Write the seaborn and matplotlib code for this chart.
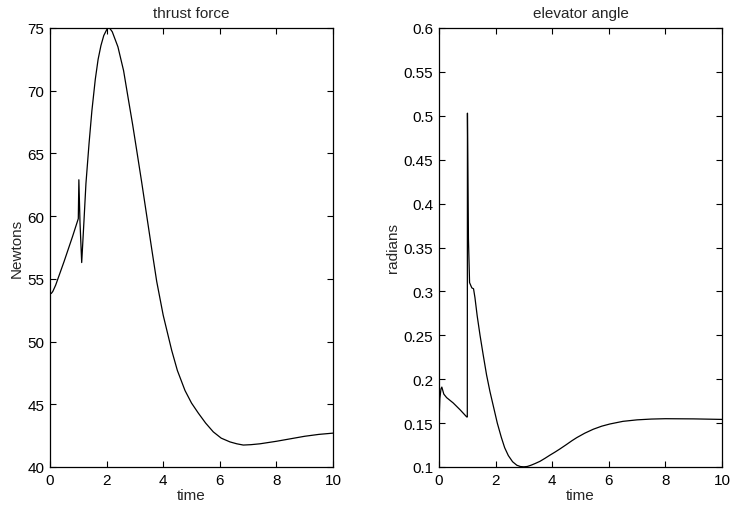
import numpy as np
import pandas as pd
import matplotlib
matplotlib.use("Agg")
import matplotlib.pyplot as plt
import seaborn as sns

# ---- data ----
thrust_t = [0.0, 0.05, 0.1, 0.2, 0.5, 0.8, 1.0, 1.02, 1.06, 1.12, 1.2, 1.27, 1.38, 1.48,
            1.6, 1.7, 1.8, 1.9, 2.0, 2.05, 2.12, 2.2, 2.4, 2.6, 2.77, 2.92, 3.06, 3.24, 3.42,
            3.6, 3.77, 4.0, 4.3, 4.5, 4.77, 5.0, 5.24, 5.5, 5.77, 6.05, 6.36, 6.6, 6.83, 7.1,
            7.42, 8.0, 8.5, 9.0, 9.5, 10.0]
thrust_v = [53.8, 53.85, 54.0, 54.5, 56.4, 58.4, 59.8, 62.9, 59.5, 56.3, 59.6, 62.6, 65.8, 68.4,
            70.9, 72.5, 73.6, 74.4, 74.85, 75.0, 74.95, 74.7, 73.5, 71.6, 69.3, 67.3, 65.3, 62.7, 60.0,
            57.3, 54.8, 52.1, 49.3, 47.7, 46.1, 45.1, 44.3, 43.5, 42.8, 42.3, 42.0, 41.85, 41.75, 41.78,
            41.85, 42.05, 42.25, 42.45, 42.6, 42.7]

elev_t = [0.0, 0.03, 0.07, 0.1, 0.17, 0.27, 0.5, 0.75, 0.98, 1.0, 1.005, 1.04, 1.08,
          1.16, 1.22, 1.27, 1.35, 1.45, 1.56, 1.68, 1.8, 1.93, 2.06, 2.2, 2.32, 2.45, 2.6,
          2.75, 2.88, 3.0, 3.12, 3.25, 3.4, 3.57, 3.75, 3.92, 4.1, 4.27, 4.5, 4.7, 4.87,
          5.15, 5.45, 5.75, 6.04, 6.5, 7.0, 7.5, 8.0, 9.0, 10.0]
elev_v = [0.15, 0.178, 0.189, 0.191, 0.183, 0.179, 0.173, 0.165, 0.157, 0.157, 0.503, 0.36, 0.31,
          0.304, 0.303, 0.293, 0.272, 0.25, 0.228, 0.205, 0.186, 0.168, 0.15, 0.134, 0.122, 0.113, 0.106,
          0.102, 0.1005, 0.1002, 0.1006, 0.102, 0.104, 0.1065, 0.11, 0.1135, 0.117, 0.1205, 0.1255, 0.13, 0.1335,
          0.1385, 0.143, 0.1465, 0.149, 0.152, 0.1537, 0.1546, 0.155, 0.1548, 0.1542]

thrust_df = pd.DataFrame({"time": thrust_t, "value": thrust_v})
elev_df = pd.DataFrame({"time": elev_t, "value": elev_v})

sns.set_style("ticks")
plt.rcParams["font.family"] = ["Liberation Sans", "DejaVu Sans"]
plt.rcParams["font.size"] = 11

fig = plt.figure(figsize=(7.34, 5.06), dpi=100)
W, H = 734, 506
ax1 = fig.add_axes([50 / W, 1 - 468 / H, (333 - 50) / W, (468 - 29) / H])
ax2 = fig.add_axes([439 / W, 1 - 468 / H, (722 - 439) / W, (468 - 29) / H])

panels = [
    (ax1, thrust_df, "thrust force", "Newtons", (40, 75), np.arange(40, 76, 5),
     [str(v) for v in range(40, 76, 5)]),
    (ax2, elev_df, "elevator angle", "radians", (0.1, 0.6), np.arange(0.1, 0.601, 0.05),
     ["0.1", "0.15", "0.2", "0.25", "0.3", "0.35", "0.4", "0.45", "0.5", "0.55", "0.6"]),
]

for ax, df, title, ylab, ylim, yt, ytl in panels:
    sns.lineplot(data=df, x="time", y="value", ax=ax, color="black", linewidth=0.9,
                 estimator=None, sort=False)
    ax.set_xlim(0, 10)
    ax.set_ylim(*ylim)
    ax.set_xticks([0, 2, 4, 6, 8, 10])
    ax.set_yticks(yt)
    ax.set_yticklabels(ytl)
    ax.set_title(title, fontsize=11, pad=8)
    ax.set_xlabel("time", fontsize=11, labelpad=1)
    ax.set_ylabel(ylab, fontsize=11, labelpad=3)
    ax.tick_params(direction="in", length=4, width=0.8, top=True, right=True,
                   labelsize=11, pad=4, colors="black")
    for s in ax.spines.values():
        s.set_visible(True)
        s.set_linewidth(0.9)
        s.set_color("black")

fig.savefig("out.png", dpi=100)
